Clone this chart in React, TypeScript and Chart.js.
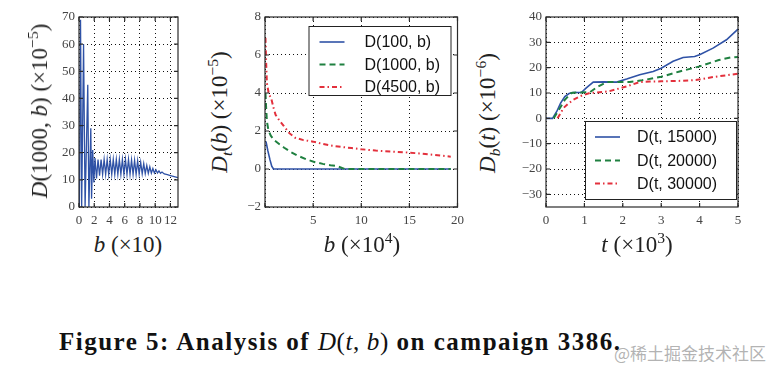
import React, { useEffect, useRef } from "react";
import { Chart, registerables } from "chart.js";
Chart.register(...registerables);

// ---------- Panel 1: D(1000, b) ----------
const p1B = [0.05, 0.2, 0.35, 0.6, 0.8, 1.15, 1.3, 1.55, 1.65, 1.8, 1.95, 2.1, 2.3, 2.5, 2.7, 2.9, 3.1, 3.3, 3.5, 3.7, 3.9, 4.1, 4.3, 4.5, 4.7, 4.9, 5.1, 5.3, 5.5, 5.7, 5.9, 6.1, 6.3, 6.5, 6.7, 6.9, 7.1, 7.3, 7.5, 7.7, 7.9, 8.1, 8.3, 8.5, 8.7, 8.9, 9.1, 9.3, 9.5, 9.7, 9.9, 10.1, 10.3, 10.5, 10.7, 10.9, 11.2, 11.6, 12.0, 12.5, 13.0];
const p1D = [0, 69, 0, 60, 0, 45, 0, 29, 3, 21, 9, 18, 10.5, 17.5, 11.5, 17.5, 12, 17.5, 12, 17.5, 12, 17.5, 12, 17.5, 12, 17.5, 12, 17.5, 12, 17.5, 12, 17.5, 12, 17.5, 12, 17.3, 12, 17.2, 12, 17, 12.1, 16.5, 12.2, 16, 12.3, 15.3, 12.4, 14.8, 12.5, 14.2, 12.5, 13.7, 12.5, 13.3, 12.4, 12.9, 12.2, 11.9, 11.6, 11.2, 10.8];
const p1XTicks = [0, 2, 4, 6, 8, 10, 12];
const p1YTicks = [0, 10, 20, 30, 40, 50, 60, 70];

// ---------- Panel 2: D_t(b) ----------
const p2Labels = ["D(100, b)", "D(1000, b)", "D(4500, b)"];
const p2B100 = [0.1, 0.3, 0.52, 0.7, 0.88, 19.3];
const p2D100 = [1.45, 0.95, 0.48, 0.15, 0, 0];
const p2B1000 = [0.05, 0.12, 0.2, 0.35, 0.6, 1.0, 1.5, 2.0, 2.6, 3.3, 4.3, 5.2, 6.0, 6.8, 7.5, 8.3, 19.3];
const p2D1000 = [4.0, 3.2, 2.5, 2.05, 1.75, 1.5, 1.3, 1.12, 0.92, 0.72, 0.51, 0.36, 0.27, 0.2, 0.15, 0, 0];
const p2B4500 = [0.05, 0.12, 0.2, 0.4, 0.65, 0.9, 1.1, 1.5, 1.9, 2.5, 3.1, 4.0, 5.0, 6.0, 7.0, 8.0, 9.0, 10.0, 11.5, 13.0, 14.5, 16.0, 17.5, 19.3];
const p2D4500 = [6.9, 5.6, 4.5, 3.95, 3.7, 3.2, 2.85, 2.55, 2.3, 1.9, 1.65, 1.52, 1.44, 1.32, 1.22, 1.16, 1.1, 1.04, 0.97, 0.92, 0.88, 0.82, 0.75, 0.65];
const p2XTicks = [0, 5, 10, 15, 20];
const p2YTicks = [-2, 0, 2, 4, 6, 8];

// ---------- Panel 3: D_b(t) ----------
const p3Labels = ["D(t, 15000)", "D(t, 20000)", "D(t, 30000)"];
const p3T15 = [0, 0.17, 0.28, 0.38, 0.49, 0.6, 0.7, 0.92, 1.05, 1.23, 1.5, 1.84, 2.1, 2.44, 2.79, 3.0, 3.31, 3.57, 3.87, 4.0, 4.35, 4.7, 5.0];
const p3D15 = [0, 0, 2.7, 6, 8.6, 9.8, 10.2, 10.2, 12, 14.3, 14.4, 14.3, 15.5, 17.2, 18.5, 19.8, 22.5, 24, 24.4, 25.1, 27.7, 31, 35.2];
const p3T20 = [0.2, 0.3, 0.4, 0.49, 0.66, 0.79, 1.14, 1.36, 1.58, 2.18, 2.5, 3.0, 3.48, 4.0, 4.5, 4.8, 5.0];
const p3D20 = [0, 2.5, 5, 7.3, 10, 10.2, 10.3, 12.6, 14.3, 14.3, 15, 16.4, 18.5, 20.5, 23, 24, 24.2];
const p3T30 = [0.3, 0.38, 0.45, 0.58, 0.71, 0.9, 1.14, 1.62, 2.1, 2.44, 2.7, 3.0, 3.5, 3.9, 4.35, 4.7, 5.0];
const p3D30 = [0, 2, 4, 5.8, 7.3, 8.8, 10, 10.6, 12.6, 14.3, 14.5, 14.6, 14.8, 15.1, 16.3, 17, 17.6];
const p3XTicks = [0, 1, 2, 3, 4, 5];
const p3YTicks = [-30, -20, -10, 0, 10, 20, 30, 40];

const BLUE = "#2f52a6";
const GREEN = "#1f8040";
const RED = "#e3303c";
const SERIF = "'Liberation Serif', 'Times New Roman', serif";
const SANS = "'Liberation Sans', Arial, sans-serif";

const series = (xs: number[], ys: number[]) => xs.map((x, i) => ({ x, y: ys[i] }));

const solid = { borderColor: BLUE, borderWidth: 1.6, borderDash: [] as number[], order: 2 };
const dashed = { borderColor: GREEN, borderWidth: 2, borderDash: [6, 4], order: 1 };
const dashDot = { borderColor: RED, borderWidth: 2, borderDash: [5, 3, 1.5, 3], order: 0 };

const framePlugin = {
  id: "frame",
  afterDatasetsDraw(chart: any) {
    const { ctx, chartArea: a, scales } = chart;
    ctx.save();
    ctx.strokeStyle = "#2a2a2a";
    ctx.lineWidth = 1.2;
    ctx.setLineDash([]);
    ctx.strokeRect(a.left, a.top, a.right - a.left, a.bottom - a.top);
    const L = 4;
    ctx.beginPath();
    scales.x.ticks.forEach((t: any) => {
      const px = scales.x.getPixelForValue(t.value);
      ctx.moveTo(px, a.bottom); ctx.lineTo(px, a.bottom - L);
      ctx.moveTo(px, a.top); ctx.lineTo(px, a.top + L);
    });
    scales.y.ticks.forEach((t: any) => {
      const py = scales.y.getPixelForValue(t.value);
      ctx.moveTo(a.left, py); ctx.lineTo(a.left + L, py);
      ctx.moveTo(a.right, py); ctx.lineTo(a.right - L, py);
    });
    ctx.stroke();
    ctx.restore();
  },
};

const legendPlugin = {
  id: "boxLegend",
  afterDraw(chart: any, _args: any, opts: any) {
    if (!opts || !opts.show) return;
    const { ctx, chartArea: a } = chart;
    const left = a.right - opts.right - opts.w;
    const top = opts.anchor === "top" ? a.top + opts.gap : a.bottom - opts.gap - opts.h;
    ctx.save();
    ctx.fillStyle = "#fff";
    ctx.fillRect(left, top, opts.w, opts.h);
    ctx.strokeStyle = "#222";
    ctx.lineWidth = 1;
    ctx.setLineDash([]);
    ctx.strokeRect(left + 0.5, top + 0.5, opts.w, opts.h);
    chart.data.datasets.forEach((ds: any, i: number) => {
      const y = top + opts.rows[i];
      ctx.strokeStyle = ds.borderColor;
      ctx.lineWidth = ds.borderWidth;
      ctx.setLineDash(ds.borderDash || []);
      ctx.beginPath();
      ctx.moveTo(left + opts.lineX0, y);
      ctx.lineTo(left + opts.lineX1, y);
      ctx.stroke();
      ctx.setLineDash([]);
      ctx.fillStyle = "#111";
      ctx.font = `16px ${SANS}`;
      ctx.textBaseline = "middle";
      ctx.textAlign = "left";
      ctx.fillText(ds.label, left + opts.textX, y + 1);
    });
    ctx.restore();
  },
};

const fmt = (v: number, hide?: number[]) =>
  hide && hide.includes(v) ? "" : String(v).replace("-", "\u2212");

function buildConfig(p: {
  datasets: any[];
  xMin: number; xMax: number; yMin: number; yMax: number;
  xTicks: number[]; yTicks: number[]; xHide?: number[];
  yW: number; xH: number; legend?: any;
}): any {
  const tickFont = { family: SERIF, size: 13 };
  const grid = { color: "#111", lineWidth: 1, drawTicks: false };
  return {
    type: "line",
    data: { datasets: p.datasets },
    plugins: [framePlugin, legendPlugin],
    options: {
      responsive: false,
      animation: false,
      devicePixelRatio: 1,
      layout: { padding: { top: 12, right: 12, left: 0, bottom: 0 } },
      plugins: {
        legend: { display: false },
        tooltip: { enabled: false },
        boxLegend: p.legend || { show: false },
      },
      elements: { point: { radius: 0 }, line: { tension: 0, fill: false } },
      scales: {
        x: {
          type: "linear", min: p.xMin, max: p.xMax,
          afterBuildTicks: (s: any) => { s.ticks = p.xTicks.map((v) => ({ value: v })); },
          afterFit: (s: any) => { s.height = p.xH; },
          ticks: { autoSkip: false, maxRotation: 0, minRotation: 0, padding: 6, color: "#444", font: tickFont, callback: (v: number) => fmt(v, p.xHide) },
          grid,
          border: { display: false, dash: [1, 3] },
        },
        y: {
          type: "linear", min: p.yMin, max: p.yMax,
          afterBuildTicks: (s: any) => { s.ticks = p.yTicks.map((v) => ({ value: v })); },
          afterFit: (s: any) => { s.width = p.yW; },
          ticks: { autoSkip: false, padding: 4, color: "#444", font: tickFont, callback: (v: number) => fmt(v) },
          grid,
          border: { display: false, dash: [1, 3] },
        },
      },
    },
  };
}

function Panel({ left, top, width, height, make }: { left: number; top: number; width: number; height: number; make: () => any }) {
  const ref = useRef<HTMLCanvasElement>(null);
  useEffect(() => {
    const chart = new Chart(ref.current as HTMLCanvasElement, make());
    return () => chart.destroy();
  }, []);
  return <canvas ref={ref} width={width} height={height} style={{ position: "absolute", left, top, width, height }} />;
}

const labelStyle: React.CSSProperties = {
  position: "absolute",
  fontFamily: SERIF,
  fontSize: 23,
  color: "#222",
  whiteSpace: "nowrap",
  lineHeight: "24px",
};
const supStyle: React.CSSProperties = { fontSize: "0.68em", verticalAlign: "0.55em", lineHeight: 0 };
const subStyle: React.CSSProperties = { fontSize: "0.68em", verticalAlign: "-0.3em", lineHeight: 0 };

function YLabel({ cx, cy, children }: { cx: number; cy: number; children: React.ReactNode }) {
  return (
    <div style={{ ...labelStyle, left: cx, top: cy, transform: "translate(-50%, -50%) rotate(-90deg)" }}>{children}</div>
  );
}
function XLabel({ cx, cy, children }: { cx: number; cy: number; children: React.ReactNode }) {
  return <div style={{ ...labelStyle, left: cx, top: cy, transform: "translate(-50%, -50%)" }}>{children}</div>;
}

export default function App() {
  const make1 = () =>
    buildConfig({
      datasets: [{ label: "D(1000, b)", data: series(p1B, p1D), ...solid, borderWidth: 1.3 }],
      xMin: 0, xMax: 13, yMin: 0, yMax: 70, xTicks: p1XTicks, yTicks: p1YTicks, yW: 29, xH: 23,
    });
  const make2 = () =>
    buildConfig({
      datasets: [
        { label: p2Labels[0], data: series(p2B100, p2D100), ...solid },
        { label: p2Labels[1], data: series(p2B1000, p2D1000), ...dashed },
        { label: p2Labels[2], data: series(p2B4500, p2D4500), ...dashDot },
      ],
      xMin: 0, xMax: 20, yMin: -2, yMax: 8, xTicks: p2XTicks, yTicks: p2YTicks, xHide: [0], yW: 30, xH: 23,
      legend: { show: true, anchor: "top", right: 7, gap: 9, w: 142, h: 69, rows: [16, 38.5, 61], lineX0: 11, lineX1: 36, textX: 56 },
    });
  const make3 = () =>
    buildConfig({
      datasets: [
        { label: p3Labels[0], data: series(p3T15, p3D15), ...solid },
        { label: p3Labels[1], data: series(p3T20, p3D20), ...dashed },
        { label: p3Labels[2], data: series(p3T30, p3D30), ...dashDot },
      ],
      xMin: 0, xMax: 5, yMin: -35, yMax: 40, xTicks: p3XTicks, yTicks: p3YTicks, yW: 36, xH: 23,
      legend: { show: true, anchor: "bottom", right: 2, gap: 8, w: 151, h: 78, rows: [16, 39.5, 62.5], lineX0: 10, lineX1: 35, textX: 52 },
    });

  return (
    <div style={{ position: "absolute", left: 0, top: 0, width: 776, height: 375, background: "#fff", overflow: "hidden" }}>
      <Panel left={50} top={5} width={140} height={225} make={make1} />
      <Panel left={235} top={5} width={235} height={225} make={make2} />
      <Panel left={510} top={5} width={240} height={225} make={make3} />

      <YLabel cx={40} cy={111}>
        <i>D</i>(1000, <i>b</i>) (×10<sup style={supStyle}>−5</sup>)
      </YLabel>
      <YLabel cx={220} cy={112}>
        <i>D</i><sub style={subStyle}><i>t</i></sub>(<i>b</i>) (×10<sup style={supStyle}>−5</sup>)
      </YLabel>
      <YLabel cx={488} cy={113}>
        <i>D</i><sub style={subStyle}><i>b</i></sub>(<i>t</i>) (×10<sup style={supStyle}>−6</sup>)
      </YLabel>
      <XLabel cx={128} cy={245}>
        <i>b</i> (×10)
      </XLabel>
      <XLabel cx={362} cy={245}>
        <i>b</i> (×10<sup style={supStyle}>4</sup>)
      </XLabel>
      <XLabel cx={637} cy={245}>
        <i>t</i> (×10<sup style={supStyle}>3</sup>)
      </XLabel>

      <div style={{ position: "absolute", left: 59, top: 327, fontFamily: SERIF, fontSize: 25, fontWeight: "bold", letterSpacing: 1.5, color: "#111", whiteSpace: "nowrap", lineHeight: "30px" }}>
        Figure 5: Analysis of <span style={{ fontWeight: "normal", letterSpacing: 0.6 }}><i>D</i>(<i>t</i>, <i>b</i>)</span> on campaign 3386.
      </div>
      <div style={{ position: "absolute", left: 614, top: 342, fontFamily: "'Noto Sans CJK SC', sans-serif", fontSize: 17, color: "rgba(165,165,165,0.85)", whiteSpace: "nowrap", lineHeight: "22px" }}>
        @稀土掘金技术社区
      </div>
    </div>
  );
}
